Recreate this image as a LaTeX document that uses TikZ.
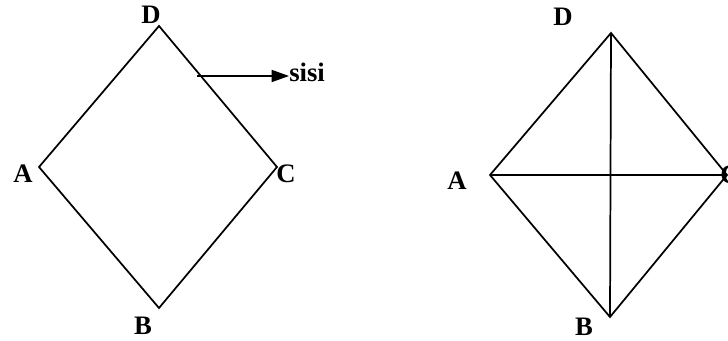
\documentclass[tikz,border=0pt]{standalone}
\usepackage{fontspec}
\setmainfont{Liberation Serif}
\usetikzlibrary{arrows.meta}
\begin{document}
\begin{tikzpicture}[x=0.75pt,y=-0.75pt,
  edge/.style={line width=1.3pt, line join=miter},
  lbl/.style={font=\fontsize{20}{24}\selectfont\bfseries, inner sep=0pt}]
\clip (0,0) rectangle (728,341);
\useasboundingbox (0,0) rectangle (728,341);
% left rhombus
\coordinate (lD) at (159,26);
\coordinate (lA) at (39,167);
\coordinate (lC) at (277,167);
\coordinate (lB) at (159,308);
\draw[edge] (lD) -- (lC) -- (lB) -- (lA) -- cycle;
\node[lbl] (tlD) at (151,15) {D};
\node[lbl] (tlA) at (23,174) {A};
\node[lbl] (tlC) at (286,174) {C};
\node[lbl] (tlB) at (143,326) {B};
\coordinate (s0) at (197,76);
\node[lbl, anchor=west] (sisi) at (289,72) {sisi};
\draw[line width=1.2pt, -{Triangle[length=13pt,width=9pt]}] (s0) -- (sisi.west |- s0);
% right rhombus
\coordinate (rD) at (611,33);
\coordinate (rA) at (490,175);
\coordinate (rC) at (727,175);
\coordinate (rB) at (610,317);
\draw[edge] (rD) -- (rC) -- (rB) -- (rA) -- cycle;
\draw[edge] (rA) -- (rC);
\draw[edge] (rD) -- (rB);
\node[lbl] (trD) at (563,17) {D};
\node[lbl] (trA) at (457,181) {A};
\node[lbl] (trC) at (730,175) {C};
\node[lbl] (trB) at (584,327) {B};
\end{tikzpicture}
\end{document}
